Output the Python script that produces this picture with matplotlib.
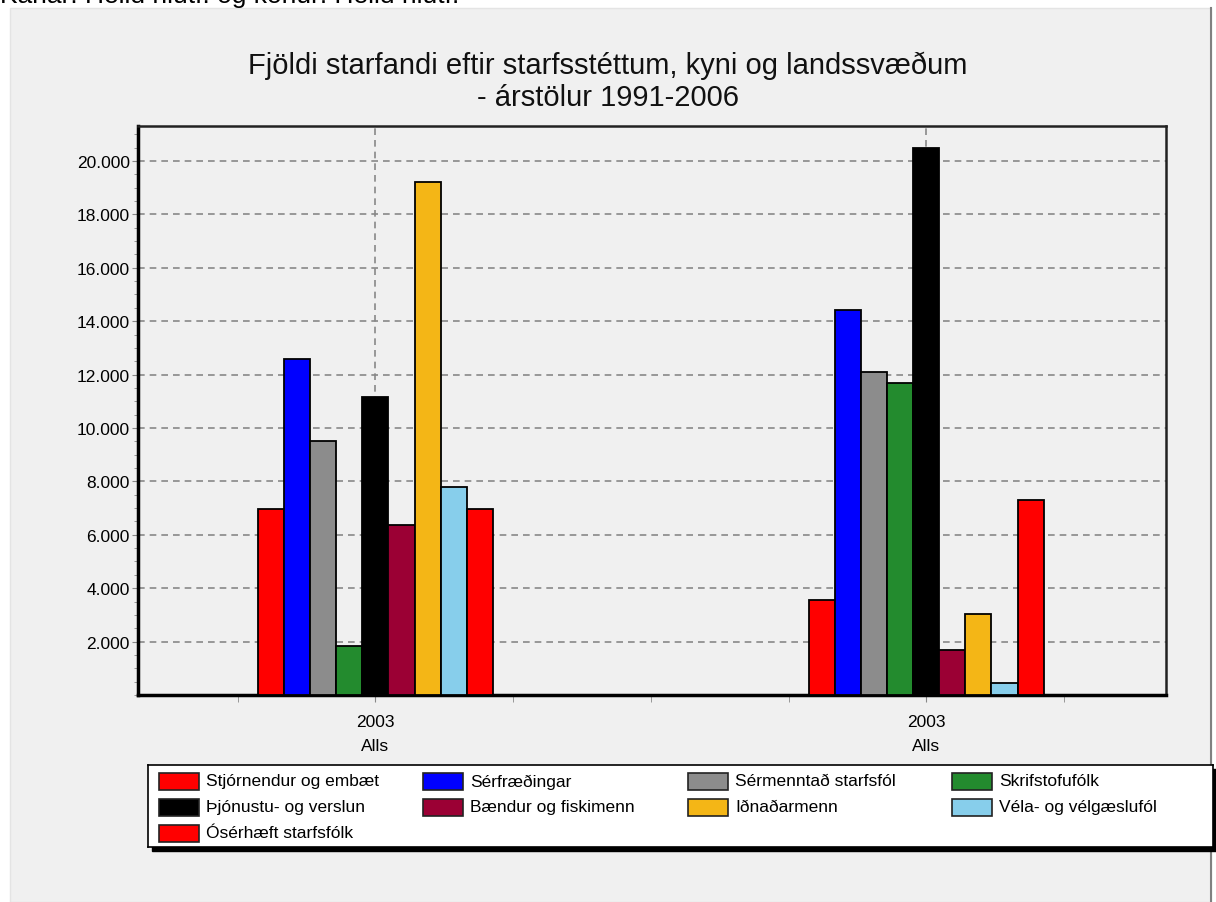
import matplotlib
matplotlib.use("Agg")
import matplotlib.pyplot as plt
from matplotlib.patches import Rectangle
from matplotlib.ticker import MultipleLocator, FuncFormatter
import numpy as np

plt.rcParams['font.family'] = ['Liberation Sans', 'DejaVu Sans']

# data
groups = ["2003\nAlls", "2003\nAlls"]
categories = ["Stjórnendur og embæt", "Sérfræðingar", "Sérmenntað starfsfól",
              "Skrifstofufólk", "Þjónustu- og verslun", "Bændur og fiskimenn",
              "Iðnaðarmenn", "Véla- og vélgæslufól", "Ósérhæft starfsfólk"]
vals_g1 = [6980, 12600, 9500, 1850, 11150, 6350, 19200, 7800, 6980]
vals_g2 = [3550, 14420, 12100, 11700, 20500, 1700, 3050, 450, 7320]
colors = ["#ff0000", "#0000ff", "#8c8c8c", "#238b2e", "#000000",
          "#9b0034", "#f4b616", "#87ceeb", "#ff0000"]
title = "Fjöldi starfandi eftir starfsstéttum, kyni og landssvæðum\n- árstölur 1991-2006"
top_note = "Karlar: Heild hlutf. og konur: Heild hlutf."

W, H = 1216, 903
bg = "#f0f0f0"
fig = plt.figure(figsize=(W / 100, H / 100), dpi=100)
fig.patch.set_facecolor("white")

# grey panel behind the chart
panel = Rectangle((10 / W, 0), (1211 - 10) / W, 1 - 9 / H,
                  transform=fig.transFigure, facecolor=bg,
                  edgecolor="#e4e4e4", lw=1, zorder=-5)
fig.patches.append(panel)
fig.add_artist(plt.Line2D([1211 / W, 1211 / W], [0, 1 - 9 / H],
                          transform=fig.transFigure, color="#808080", lw=1.5, zorder=-4))

fig.text(0.0, 1 - 3 / H, top_note, fontsize=19, va="baseline", ha="left")

fig.text(608 / W, 1 - 52 / H, title, fontsize=21, ha="center", va="top",
         color="#111111", linespacing=1.17)

L, R, T, B = 138, 1166, 127, 696
ax = fig.add_axes([L / W, 1 - B / H, (R - L) / W, (B - T) / H], zorder=1)
ax.set_facecolor(bg)

x = np.arange(len(groups))
bw = 0.0473
for i, c in enumerate(colors):
    off = (i - 4) * bw
    ax.bar(x + off, [vals_g1[i], vals_g2[i]], width=bw, color=c,
           edgecolor="black", linewidth=1.3, zorder=3)

ax.set_xlim(-0.431, 1.435)
ax.set_ylim(0, 21310)
ax.set_xticks(x)
ax.set_xticklabels(groups, fontsize=12.5, linespacing=1.75)
ax.xaxis.set_minor_locator(MultipleLocator(0.25))
ax.set_yticks(np.arange(2000, 20001, 2000))
ax.yaxis.set_minor_locator(MultipleLocator(500))
ax.yaxis.set_major_formatter(FuncFormatter(lambda v, p: "{:,.0f}".format(v).replace(",", ".")))
ax.tick_params(axis="y", labelsize=12.5, length=4, color="#888888", pad=2)
ax.tick_params(axis="y", which="minor", length=3, color="#888888")
ax.tick_params(axis="x", length=5, color="#888888", pad=9)
ax.tick_params(axis="x", which="minor", length=5, color="#888888")

ax.grid(True, axis="y", color="#888888", linestyle=(0, (4, 3)), linewidth=1.2, zorder=1)
ax.grid(True, axis="x", which="major", color="#888888", linestyle=(0, (4, 3)), linewidth=1.2, zorder=1)

for s in ["left", "bottom"]:
    ax.spines[s].set_linewidth(2.5)
    ax.spines[s].set_color("black")
for s in ["top", "right"]:
    ax.spines[s].set_linewidth(1.8)
    ax.spines[s].set_color("#222222")

# legend box with shadow, row-major layout like the original
lx0, ly0, lx1, ly1 = 148, 766, 1213, 848
shadow = Rectangle(((lx0 + 4) / W, 1 - (ly1 + 4) / H), (lx1 - lx0) / W, (ly1 - ly0) / H,
                   transform=fig.transFigure, facecolor="black", edgecolor="black", zorder=1)
fig.patches.append(shadow)
lax = fig.add_axes([lx0 / W, 1 - ly1 / H, (lx1 - lx0) / W, (ly1 - ly0) / H], zorder=2)
lax.set_xlim(0, lx1 - lx0)
lax.set_ylim(ly1 - ly0, 0)
lax.set_xticks([])
lax.set_yticks([])
lax.set_facecolor("white")
for s in lax.spines.values():
    s.set_linewidth(1.2)
    s.set_color("black")
col_x = [11, 275, 540, 804]
row_y = [16, 42, 68]
for i, (name, c) in enumerate(zip(categories, colors)):
    cx = col_x[i % 4]
    cy = row_y[i // 4]
    lax.add_patch(Rectangle((cx, cy - 8.5), 40, 17, facecolor=c, edgecolor="#222222", lw=1.2))
    lax.text(cx + 47, cy, name, fontsize=12.5, va="center", ha="left")

fig.savefig("out.png", dpi=100, facecolor=fig.get_facecolor())
